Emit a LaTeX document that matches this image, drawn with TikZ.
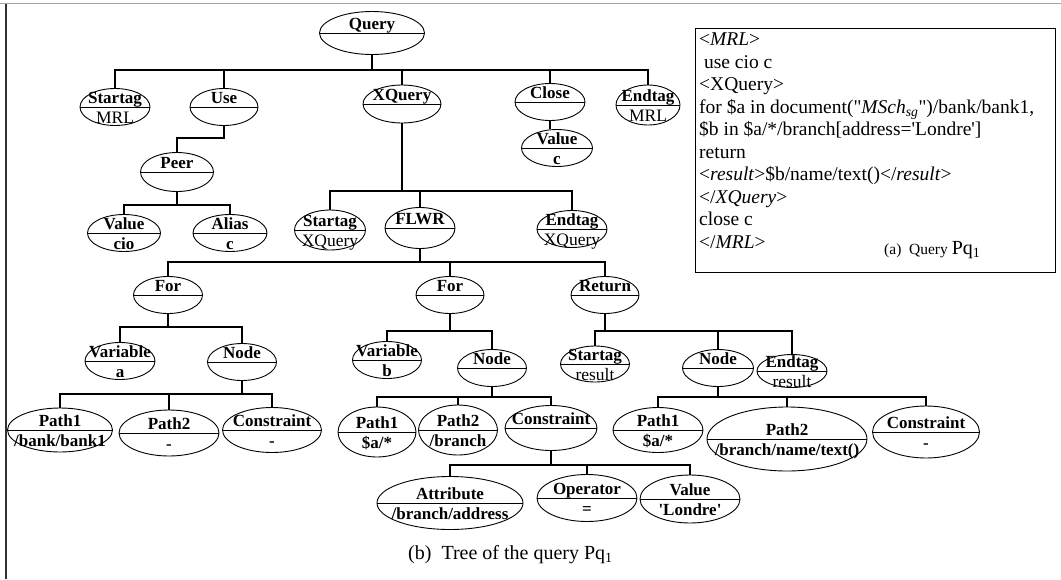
\documentclass[tikz,border=0pt]{standalone}
\usepackage{fontspec}
\setmainfont{Liberation Serif}
\usetikzlibrary{shapes.geometric}
\tikzset{
  ell/.style={ellipse, draw, line width=0.9pt, inner sep=0pt},
  ttl/.style={font=\fontsize{17}{19}\selectfont\bfseries, anchor=base, inner sep=0pt},
  subb/.style={font=\fontsize{17}{19}\selectfont\bfseries, anchor=base, inner sep=0pt},
  subr/.style={font=\fontsize{17.5}{19}\selectfont, anchor=base, inner sep=0pt},
  link/.style={line width=1.1pt},
  divl/.style={line width=0.9pt},
}
% name, x, y, width, height, top text, bottom text, bottom style
\newcommand{\enode}[8]{%
  \node[ell, minimum width=#4pt, minimum height=#5pt] (#1) at (#2,#3) {};
  \draw[divl] (#1.west) -- (#1.east);
  \node[ttl] (#1t) at ([yshift=3.5pt]#1.center) {#6};
  \node[#8] (#1b) at ([yshift=-16pt]#1.center) {#7};
}
% parent, child, bus y
\newcommand{\conn}[3]{%
  \draw[link] (#1.south) -- (#1.south |- 0,#3) -| (#2.north);
}
\begin{document}
\begin{tikzpicture}[x=1pt, y=-1pt]
\useasboundingbox (0,0) rectangle (1061,579);
% frame
\draw[gray!70, line width=1.3pt] (0,3.5) -- (1061,3.5);
\draw[black!80, line width=1.3pt] (6,3.5) -- (6,579);

% level 0
\enode{q}{372}{33}{105}{43}{Query}{}{subb}
% level 1
\enode{smrl}{115}{107}{70}{37}{Startag}{MRL}{subr}
\enode{use}{224}{107}{68}{37}{Use}{}{subb}
\enode{xq}{402}{104}{78}{38}{XQuery}{}{subb}
\enode{close}{550}{102}{70}{37}{Close}{}{subb}
\enode{emrl}{648}{105}{64}{40}{Endtag}{MRL}{subr}
\enode{valc}{557}{148}{71}{37}{Value}{c}{subb}
\enode{peer}{177}{172}{73}{39}{Peer}{}{subb}
\enode{vcio}{124}{233}{73}{37}{Value}{cio}{subb}
\enode{alias}{230}{233}{74}{37}{Alias}{c}{subb}
% XQuery subtree
\enode{sxq}{330}{230}{71}{40}{Startag}{XQuery}{subr}
\enode{flwr}{420}{228}{70}{41}{FLWR}{}{subb}
\enode{exq}{572}{229}{70}{37}{Endtag}{XQuery}{subr}
\enode{forA}{168}{295}{69}{37}{For}{}{subb}
\enode{forB}{450}{295}{68}{37}{For}{}{subb}
\enode{ret}{605}{295}{68}{37}{Return}{}{subb}
\enode{vara}{120}{361}{70}{37}{Variable}{a}{subb}
\enode{nodeA}{242}{362}{69}{37}{Node}{}{subb}
\enode{varb}{387}{360}{69}{37}{Variable}{b}{subb}
\enode{nodeB}{492}{368}{69}{37}{Node}{}{subb}
\enode{sres}{595}{364}{69}{36}{Startag}{result}{subr}
\enode{nodeC}{718}{368}{71}{37}{Node}{}{subb}
\enode{eres}{792}{371}{70}{33}{Endtag}{result}{subr}
% paths
\enode{pAa}{60}{430}{105}{44}{Path1}{/bank/bank1}{subb}
\enode{pAb}{169}{433}{100}{46}{Path2}{-}{subb}
\enode{cA}{272}{430}{99}{45}{Constraint}{-}{subb}
\enode{pBa}{377}{432}{78}{50}{Path1}{\$a/*}{subb}
\enode{pBb}{458}{430}{79}{50}{Path2}{/branch}{subb}
\enode{cB}{551}{428}{92}{45}{Constraint}{}{subb}
\enode{attr}{450}{503}{146}{53}{Attribute}{/branch/address}{subb}
\enode{oper}{587}{498}{100}{47}{Operator}{=}{subb}
\enode{vlon}{690}{499}{100}{48}{Value}{\textquotesingle Londre\textquotesingle}{subb}
\enode{pCa}{658}{430}{90}{45}{Path1}{\$a/*}{subb}
\enode{pCb}{787}{439}{160}{64}{Path2}{/branch/name/text()}{subb}
\enode{cC}{926}{432}{107}{52}{Constraint}{-}{subb}

% connectors
\conn{q}{smrl}{70}\conn{q}{use}{70}\conn{q}{xq}{70}\conn{q}{close}{70}\conn{q}{emrl}{70}
\draw[link] (close.south) -- (close.south |- valc.north);
\conn{use}{peer}{138}
\conn{peer}{vcio}{205}\conn{peer}{alias}{205}
\conn{xq}{sxq}{191}\conn{xq}{flwr}{191}\conn{xq}{exq}{191}
\conn{flwr}{forA}{262}\conn{flwr}{forB}{262}\conn{flwr}{ret}{262}
\conn{forA}{vara}{327}\conn{forA}{nodeA}{327}
\conn{forB}{varb}{331}\conn{forB}{nodeB}{331}
\conn{ret}{sres}{331}\conn{ret}{nodeC}{331}\conn{ret}{eres}{331}
\conn{nodeA}{pAa}{394}\conn{nodeA}{pAb}{394}\conn{nodeA}{cA}{394}
\conn{nodeB}{pBa}{397}\conn{nodeB}{pBb}{397}\conn{nodeB}{cB}{397}
\conn{cB}{attr}{465}\conn{cB}{oper}{465}\conn{cB}{vlon}{465}
\conn{nodeC}{pCa}{397}\conn{nodeC}{pCb}{397}\conn{nodeC}{cC}{397}

% caption (b)
\node[anchor=base west, inner sep=0pt, font=\fontsize{20}{22}\selectfont] (capb) at (408,559)
  {(b)\ \ Tree of the query Pq\textsubscript{1}};

% query box (a)
\node[draw, line width=1.2pt, minimum width=360pt, minimum height=244pt, anchor=north west, inner sep=0pt] (qbox) at (695,28) {};
\node[anchor=north west, align=left, inner sep=0pt, font=\fontsize{19.5}{22.5}\selectfont] (qtext)
  at ([xshift=4pt, yshift=-5pt]qbox.north west)
  {<\textit{MRL}>\\
   \ use cio c\\
   <XQuery>\\
   for \$a in document(\textquotedbl\textit{MSch}\textsubscript{\textit{sg}}\textquotedbl)/bank/bank1,\\
   \$b in \$a/*/branch[address=\textquotesingle Londre\textquotesingle]\\
   return\\
   <\textit{result}>\$b/name/text()</\textit{result}>\\
   </\textit{XQuery}>\\
   close c\\
   </\textit{MRL}>};
\node[anchor=base west, inner sep=0pt] (capa) at ([xshift=185pt, yshift=-6pt]qtext.base west)
  {\fontsize{15.5}{17}\selectfont (a)\ \ Query \fontsize{20}{21}\selectfont Pq\textsubscript{1}};
\end{tikzpicture}
\end{document}
